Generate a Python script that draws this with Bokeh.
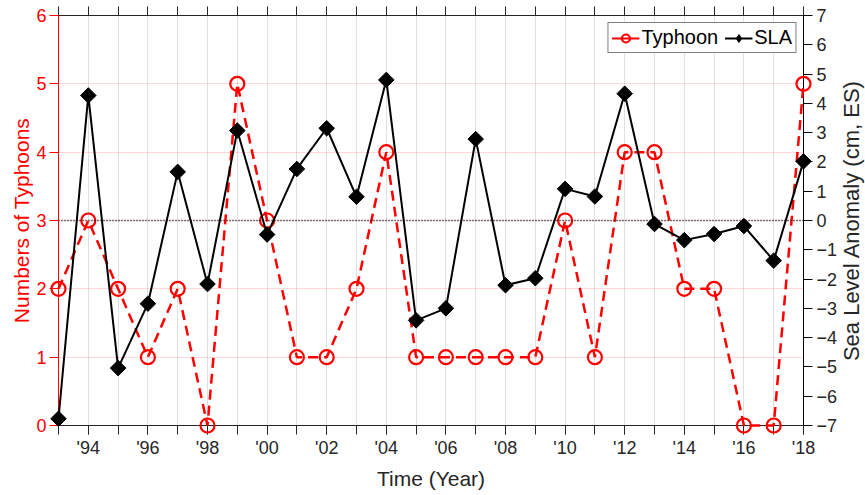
import math
from bokeh.plotting import figure
from bokeh.models import Range1d, LinearAxis, FixedTicker, Span, Legend, LegendItem
from bokeh.core.properties import value
from bokeh.embed import file_html
from bokeh.resources import INLINE

years = list(range(1993, 2019))
typhoon = [2, 3, 2, 1, 2, 0, 5, 3, 1, 1, 2, 4, 1, 1, 1, 1, 1, 3, 1, 4, 4, 2, 2, 0, 0, 5]
sla = [-6.77, 4.27, -5.04, -2.84, 1.66, -2.17, 3.07, -0.48, 1.76, 3.15, 0.81, 4.80, -3.41,
       -3.0, 2.78, -2.21, -1.97, 1.08, 0.82, 4.33, -0.12, -0.67, -0.46, -0.19, -1.37, 2.02]
left_ticks = [0, 1, 2, 3, 4, 5, 6]
right_ticks = list(range(-7, 8))
x_label_years = [y for y in years if y % 2 == 0]
x_labels = ["'" + str(y)[2:] for y in x_label_years]
right_title = "Sea Level Anomaly (cm, ES)"

FONT = "Liberation Sans"
RED = "#ff0000"
DARK = "#262626"

p = figure(width=865, height=495, x_range=Range1d(1993, 2018), y_range=Range1d(0, 6),
           output_backend="svg", toolbar_location=None,
           min_border_left=58, min_border_right=62, min_border_top=15, min_border_bottom=70)
p.extra_y_ranges = {"sla": Range1d(-7, 7)}
p.outline_line_color = DARK
p.outline_line_width = 1
p.background_fill_color = "white"

# grids
p.xgrid.ticker = FixedTicker(ticks=years)
p.xgrid.grid_line_color = "#000000"
p.xgrid.grid_line_alpha = 0.12
p.ygrid.ticker = FixedTicker(ticks=left_ticks[1:-1])
p.ygrid.grid_line_color = RED
p.ygrid.grid_line_alpha = 0.15

# bottom axis
xa = p.xaxis[0]
xa.ticker = FixedTicker(ticks=x_label_years, minor_ticks=years)
xa.major_label_overrides = {y: l for y, l in zip(x_label_years, x_labels)}
xa.axis_label = "Time (Year)"
xa.axis_line_color = DARK
xa.major_tick_line_color = DARK
xa.minor_tick_line_color = DARK
xa.major_tick_out = 9
xa.major_tick_in = 0
xa.minor_tick_out = 9
xa.minor_tick_in = 0
xa.major_label_text_color = DARK
xa.major_label_text_font = FONT
xa.major_label_text_font_size = "18px"
xa.axis_label_text_color = DARK
xa.axis_label_text_font = FONT
xa.axis_label_text_font_size = "21px"
xa.axis_label_text_font_style = "normal"
xa.major_label_standoff = 3
xa.axis_label_standoff = 6

# top axis (ticks only, via minor ticks so that no labels are made)
top = LinearAxis(ticker=FixedTicker(ticks=[], minor_ticks=years))
top.axis_line_color = DARK
top.major_tick_line_color = None
top.minor_tick_line_color = DARK
top.minor_tick_out = 9
top.minor_tick_in = 0
top.major_label_standoff = 0
p.add_layout(top, "above")

# left axis
ya = p.yaxis[0]
ya.ticker = FixedTicker(ticks=left_ticks)
ya.axis_label = "Numbers of Typhoons"
ya.axis_line_color = RED
ya.major_tick_line_color = RED
ya.minor_tick_line_color = None
ya.major_tick_out = 9
ya.major_tick_in = 0
ya.major_label_text_color = RED
ya.major_label_text_font = FONT
ya.major_label_text_font_size = "18px"
ya.axis_label_text_color = RED
ya.axis_label_text_font = FONT
ya.axis_label_text_font_size = "21px"
ya.axis_label_text_font_style = "normal"
ya.major_label_standoff = 3
ya.axis_label_standoff = 0

# right axis
ra = LinearAxis(y_range_name="sla", ticker=FixedTicker(ticks=right_ticks))
ra.axis_line_color = "black"
ra.major_tick_line_color = "black"
ra.minor_tick_line_color = None
ra.major_tick_out = 9
ra.major_tick_in = 0
ra.major_label_text_color = DARK
ra.major_label_text_font = FONT
ra.major_label_text_font_size = "18px"
ra.major_label_standoff = 4
p.add_layout(ra, "right")

# right axis title, reading bottom-to-top, placed just right of the tick labels
p.text(x=[years[-1] + 1.62], y=[0], y_range_name="sla", text=[right_title],
       angle=math.pi / 2, text_align="center", text_baseline="middle",
       text_font=value(FONT), text_font_size="22px", text_color=DARK, level="annotation")

# zero line of SLA
p.add_layout(Span(location=0, dimension="width", y_range_name="sla",
                  line_color="black", line_dash="1 2", line_width=1.3))

r1 = p.line(years, typhoon, line_color=RED, line_width=2.5, line_dash="10 6", level="annotation")
r2 = p.scatter(years, typhoon, marker="circle", size=14, line_color=RED,
               fill_color=None, line_width=2.2, level="annotation")
r3 = p.line(years, sla, y_range_name="sla", line_color="black", line_width=2, level="annotation")
r4 = p.scatter(years, sla, y_range_name="sla", marker="square", angle=math.pi / 4, size=11,
               line_color="black", fill_color="black", line_width=1, level="annotation")

# legend keys (solid lines, upright diamond) — hidden renderers used only for the legend
k1 = p.line(years, typhoon, line_color=RED, line_width=2, visible=False)
k3 = p.line(years, sla, y_range_name="sla", line_color="black", line_width=2, visible=False)
k4 = p.scatter(years, sla, y_range_name="sla", marker="diamond", size=17,
               line_color="black", fill_color="black", visible=False)

legend = Legend(items=[LegendItem(label="Typhoon", renderers=[k1, r2]),
                       LegendItem(label="SLA", renderers=[k3, k4])],
                orientation="horizontal", location="top_right")
legend.border_line_color = "black"
legend.border_line_width = 1
legend.label_text_font = FONT
legend.label_text_font_size = "20px"
legend.label_text_color = "black"
legend.glyph_width = 28
legend.glyph_height = 20
legend.label_standoff = 2
legend.spacing = 6
legend.padding = 3
legend.margin = 7
legend.background_fill_alpha = 1
p.add_layout(legend, "center")

open("out.html", "w").write(file_html(p, INLINE))
